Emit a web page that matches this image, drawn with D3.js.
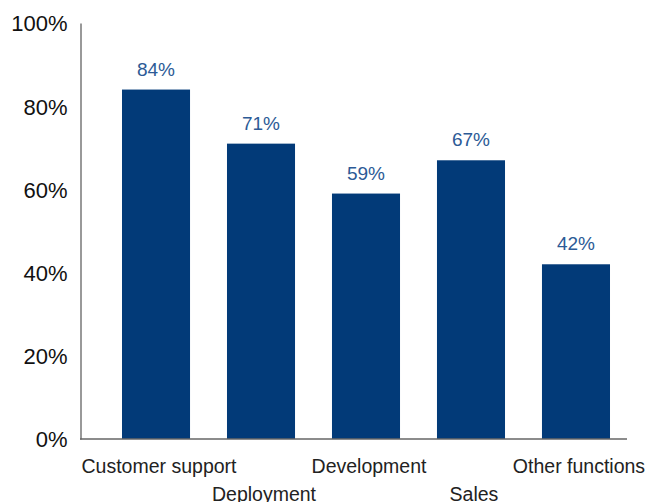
<!DOCTYPE html>
<html>
<head>
<meta charset="utf-8">
<script src="https://cdn.jsdelivr.net/npm/d3@7"></script>
<style>
  html, body { margin: 0; padding: 0; background: #fff; }
  svg { display: block; }
</style>
</head>
<body>
<svg id="chart" width="655" height="502"></svg>
<script>
// Share of respondents by function
const categories = ["Customer support", "Deployment", "Development", "Sales", "Other functions"];
const values = [84, 71, 59, 67, 42];
const yTicks = [0, 20, 40, 60, 80, 100];

const svg = d3.select("#chart");
const font = "'Liberation Sans', Arial, sans-serif";

const axisLeft = 80.5;
const axisRight = 627;

const x = d3.scaleBand()
  .domain(categories)
  .range([80, 652])
  .paddingInner(0.352)
  .paddingOuter(0.4);

const y = d3.scaleLinear()
  .domain([0, 100])
  .range([439, 23]);

// Bars
svg.append("g")
  .selectAll("rect")
  .data(values)
  .join("rect")
  .attr("x", (d, i) => x(categories[i]))
  .attr("y", d => y(d))
  .attr("width", x.bandwidth())
  .attr("height", d => y(0) - y(d))
  .attr("fill", "#023a78");

// Value labels
svg.append("g")
  .selectAll("text")
  .data(values)
  .join("text")
  .attr("x", (d, i) => x(categories[i]) + x.bandwidth() / 2)
  .attr("y", d => y(d) - 14)
  .attr("text-anchor", "middle")
  .attr("font-family", font)
  .attr("font-size", 19)
  .attr("fill", "#2c5a96")
  .text(d => d + "%");

// Y axis
const yAxis = svg.append("g")
  .attr("transform", `translate(${axisLeft},0)`)
  .call(d3.axisLeft(y).tickValues(yTicks).tickSize(0).tickPadding(13).tickFormat(d => d + "%"));
yAxis.select(".domain").attr("stroke", "#555").attr("stroke-width", 1.2);
yAxis.selectAll("text")
  .attr("font-family", font)
  .attr("font-size", 22)
  .attr("fill", "#111")
  .attr("dy", "0.36em");

// Baseline
svg.append("line")
  .attr("x1", axisLeft - 0.5)
  .attr("x2", axisRight)
  .attr("y1", y(0))
  .attr("y2", y(0))
  .attr("stroke", "#666")
  .attr("stroke-width", 1.5);

// Category labels, staggered on two rows
svg.append("g")
  .selectAll("text")
  .data(categories)
  .join("text")
  .attr("x", d => x(d) + x.bandwidth() / 2 + 3)
  .attr("y", (d, i) => i % 2 === 0 ? 473 : 501)
  .attr("text-anchor", "middle")
  .attr("font-family", font)
  .attr("font-size", 19.5)
  .attr("fill", "#222")
  .text(d => d);
</script>
</body>
</html>
